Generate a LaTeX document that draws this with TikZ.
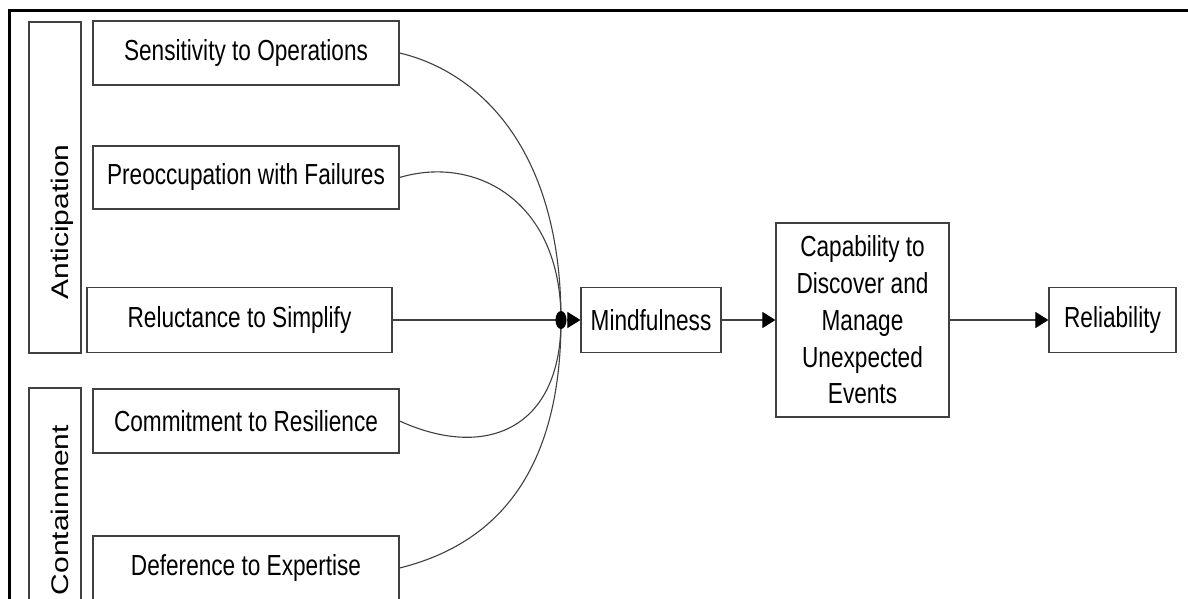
\documentclass[tikz,border=0pt]{standalone}
\usepackage{graphicx}
\usepackage{fontspec}
\setmainfont{Liberation Sans}
\newfontfamily\boxfont[FakeStretch=0.78]{Liberation Sans}
\usetikzlibrary{arrows.meta,shapes.geometric}
\begin{document}
\begin{tikzpicture}[x=1pt,y=-1pt,
  box/.style={draw=black!75, line width=1.2pt, inner sep=0pt, align=center,
    font=\boxfont\fontsize{29}{36.7}\selectfont},
  grp/.style={draw=black!75, line width=1.2pt, inner sep=0pt},
  grplabel/.style={inner sep=0pt, rotate=90, anchor=base,
    font=\fontsize{30}{36}\selectfont},
  conn/.style={draw=black!75, line width=1.1pt},
  arr/.style={conn, -{Triangle[length=13pt,width=16pt,color=black]}},
  joint/.style={ellipse, fill=black, inner sep=0pt, minimum width=11pt, minimum height=18pt}
]
\useasboundingbox (0,0) rectangle (1188,599);
\clip (0,0) rectangle (1188,599);
\fill[white] (0,0) rectangle (1188,599);
% outer frame (cropped at right and bottom)
\draw[black, line width=2.5pt] (9.5,640) -- (9.5,10.5) -- (1230,10.5);

% group boxes
\node[grp, minimum width=52pt, minimum height=331pt] (antic) at (55,187.5) {};
\node[grp, minimum width=52pt, minimum height=244pt] (contain) at (55,510) {};
\node[grplabel] (anticlabel) at (68,222) {\scalebox{1}[0.8]{Anticipation}};
\node[grplabel] (containlabel) at (68,510) {\scalebox{1}[0.8]{Containment}};

% principle boxes
\node[box, minimum width=306pt, minimum height=64pt] (sens) at (246,53) {Sensitivity to Operations};
\node[box, minimum width=306pt, minimum height=63pt] (preo) at (246,177.5) {Preoccupation with Failures};
\node[box, minimum width=305pt, minimum height=65pt] (relu) at (239.5,320) {Reluctance to Simplify};
\node[box, minimum width=306pt, minimum height=64pt] (comm) at (246,421) {Commitment to Resilience};
\node[box, minimum width=306pt, minimum height=64pt] (defe) at (246,568) {Deference to Expertise};

% right chain
\node[box, minimum width=140pt, minimum height=65pt] (mind) at (651,320) {Mindfulness};
\node[box, minimum width=173pt, minimum height=194pt] (capa) at (862.5,320) {Capability to\\Discover and\\Manage\\Unexpected\\Events};
\node[box, minimum width=127pt, minimum height=65pt] (reli) at (1112.5,320) {Reliability};

\coordinate (j) at (561,320);
% converging connectors
\draw[conn] (sens.east) .. controls (480,72) and (561,150) .. (j);
\draw[conn] (preo.east) .. controls (475,155) and (561,200) .. (j);
\draw[conn] (relu.east) -- (j);
\draw[conn] (comm.east) .. controls (485,460) and (561,430) .. (j);
\draw[conn] (defe.east) .. controls (480,548) and (561,490) .. (j);
\node[joint] (dot) at (j) {};

\draw[arr] (dot.east) -- (mind.west);
\draw[arr] (mind.east) -- (capa.west);
\draw[arr] (capa.east) -- (reli.west);
\end{tikzpicture}
\end{document}
